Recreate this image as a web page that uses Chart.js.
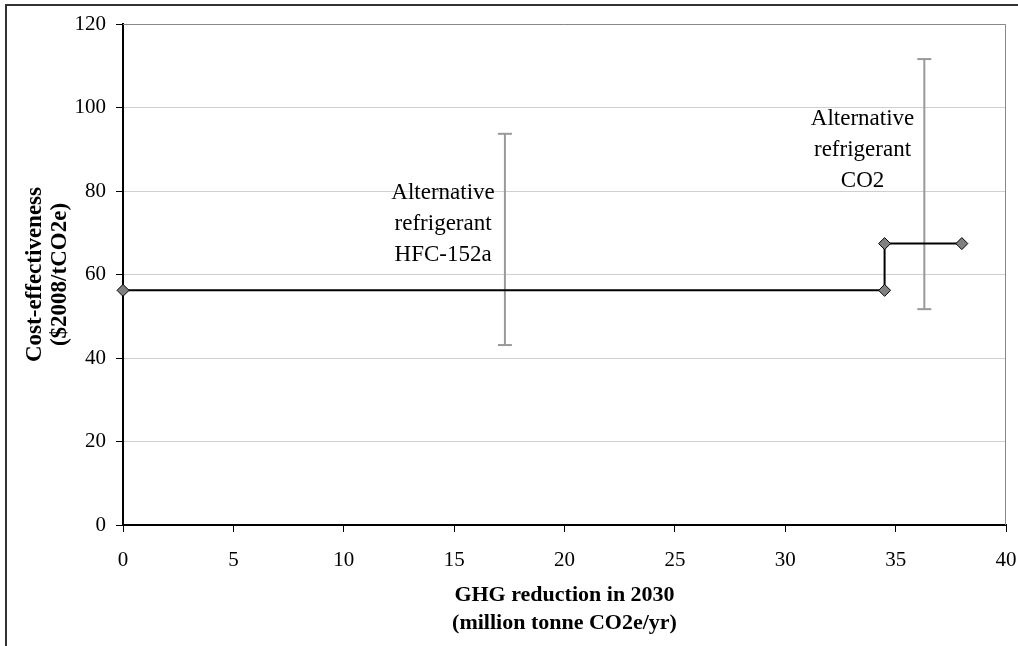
<!DOCTYPE html>
<html>
<head>
<meta charset="utf-8">
<script src="https://cdn.jsdelivr.net/npm/chart.js@4/dist/chart.umd.min.js"></script>
<style>
  html, body { margin: 0; padding: 0; background: #fff; }
  #wrap { width: 1018px; height: 646px; position: relative; }
</style>
</head>
<body>
<div id="wrap"><canvas id="myChart" width="1018" height="646"></canvas></div>
<script>
// cost curve (x = cumulative GHG reduction, y = cost-effectiveness)
var stepX = [0, 34.5, 34.5, 38];
var stepY = [56.2, 56.2, 67.4, 67.4];

// uncertainty ranges for each measure
var rangeX = [17.3, 36.3];
var rangeLow = [43.1, 51.7];
var rangeHigh = [93.7, 111.6];

// measure labels
var measureNames = [
  ['Alternative', 'refrigerant', 'HFC-152a'],
  ['Alternative', 'refrigerant', 'CO2']
];
var labelAt = [[14.5, 72], [33.5, 89.8]]; // middle line anchor, in data units

var xTicks = [0, 5, 10, 15, 20, 25, 30, 35, 40];
var yTicks = [0, 20, 40, 60, 80, 100, 120];

var serif = "'Liberation Serif', 'Times New Roman', serif";

function pts(xs, ys) {
  var out = [];
  for (var i = 0; i < xs.length; i++) out.push({x: xs[i], y: ys[i]});
  return out;
}

var datasets = [{
  label: 'cost curve',
  data: pts(stepX, stepY),
  showLine: true,
  clip: false,
  borderColor: '#000',
  borderWidth: 2,
  pointStyle: 'rectRot',
  pointRadius: 6,
  pointBackgroundColor: '#808080',
  pointBorderColor: '#000',
  pointBorderWidth: 1,
  order: 1
}];
for (var i = 0; i < rangeX.length; i++) {
  datasets.push({
    label: 'range ' + i,
    data: [{x: rangeX[i], y: rangeLow[i]}, {x: rangeX[i], y: rangeHigh[i]}],
    showLine: true,
    borderColor: '#999',
    borderWidth: 2,
    pointStyle: 'line',
    pointRadius: 7,
    pointBorderColor: '#999',
    pointBorderWidth: 2,
    order: 2
  });
}

var framePlugin = {
  id: 'frame',
  beforeDraw: function(chart) {
    var c = chart.ctx;
    c.save();
    c.strokeStyle = '#333';
    c.lineWidth = 2;
    c.beginPath();
    c.moveTo(6, 646);
    c.lineTo(6, 5);
    c.lineTo(1018, 5);
    c.stroke();
    c.restore();
  },
  beforeDatasetsDraw: function(chart) {
    var a = chart.chartArea, c = chart.ctx;
    c.save();
    c.strokeStyle = '#888';
    c.lineWidth = 1;
    c.beginPath();
    c.moveTo(a.left, a.top + 0.5);
    c.lineTo(a.right - 0.5, a.top + 0.5);
    c.lineTo(a.right - 0.5, a.bottom);
    c.stroke();
    c.restore();
  },
  afterDraw: function(chart) {
    var c = chart.ctx;
    // measure names
    var xs = chart.scales.x, ys = chart.scales.y;
    c.save();
    c.fillStyle = '#000';
    c.font = '23px ' + serif;
    c.textAlign = 'center';
    c.textBaseline = 'middle';
    for (var k = 0; k < measureNames.length; k++) {
      var px = xs.getPixelForValue(labelAt[k][0]);
      var py = ys.getPixelForValue(labelAt[k][1]);
      for (var j = 0; j < measureNames[k].length; j++) {
        c.fillText(measureNames[k][j], px, py + (j - 1) * 31);
      }
    }
    c.restore();
  }
};

new Chart(document.getElementById('myChart'), {
  type: 'scatter',
  data: { datasets: datasets },
  options: {
    responsive: false,
    animation: false,
    layout: { padding: { left: 0, top: 24, right: 12, bottom: 0 } },
    plugins: { legend: { display: false }, tooltip: { enabled: false } },
    scales: {
      x: {
        type: 'linear',
        min: 0, max: 40,
        afterBuildTicks: function(s) { s.ticks = xTicks.map(function(v) { return {value: v}; }); },
        afterFit: function(s) { s.height = 121; s.paddingRight = 0; s.paddingLeft = 0; },
        ticks: { color: '#000', font: { family: serif, size: 21 }, padding: 16, maxRotation: 0 },
        grid: { drawOnChartArea: false, tickLength: 7, color: '#000' },
        border: { color: '#000', width: 2 },
        title: {
          display: true,
          text: ['GHG reduction in 2030', '(million tonne CO2e/yr)'],
          color: '#000',
          font: { family: serif, size: 22, weight: 'bold', lineHeight: 1.25 },
          padding: { top: 0, bottom: 9 }
        }
      },
      y: {
        type: 'linear',
        min: 0, max: 120,
        afterBuildTicks: function(s) { s.ticks = yTicks.map(function(v) { return {value: v}; }); },
        afterFit: function(s) { s.width = 123; s.paddingTop = 0; s.paddingBottom = 0; },
        ticks: { color: '#000', font: { family: serif, size: 21 }, padding: 10 },
        grid: {
          tickLength: 7,
          color: '#cfcfcf',
          tickColor: '#000'
        },
        border: { color: '#000', width: 2 },
        title: {
          display: true,
          text: ['Cost-effectiveness', '($2008/tCO2e)'],
          color: '#000',
          font: { family: serif, size: 23, weight: 'bold', lineHeight: 1.1 },
          padding: { top: 22, bottom: 0 }
        }
      }
    }
  },
  plugins: [framePlugin]
});
</script>
</body>
</html>
